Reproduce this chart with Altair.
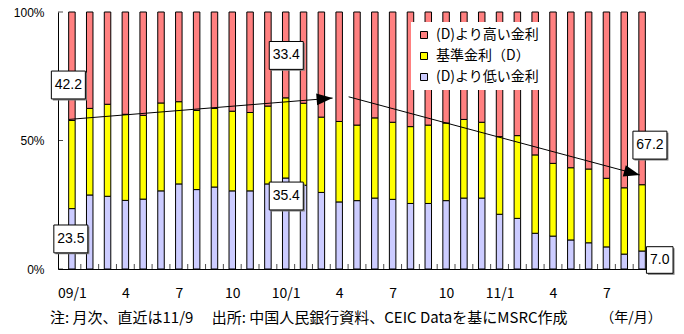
import math

import altair as alt
import pandas as pd

# Monthly share of new loans by interest-rate level relative to the benchmark rate (D)
months = [
    "09/1", "09/2", "09/3", "09/4", "09/5", "09/6", "09/7", "09/8", "09/9", "09/10", "09/11", "09/12",
    "10/1", "10/2", "10/3", "10/4", "10/5", "10/6", "10/7", "10/8", "10/9", "10/10", "10/11", "10/12",
    "11/1", "11/2", "11/3", "11/4", "11/5", "11/6", "11/7", "11/8", "11/9",
]
low = [23.5, 28.8, 28.3, 26.7, 27.2, 30.4, 33.1, 30.9, 31.9, 30.4, 30.4, 33.1,
       35.4, 32.6, 29.8, 26.1, 26.6, 27.6, 27.1, 25.5, 25.5, 26.6, 27.6, 27.6,
       21.3, 19.7, 13.9, 12.8, 11.3, 10.2, 8.6, 5.8, 7.0]
base = [34.3, 33.7, 35.8, 33.5, 32.6, 34.2, 32.0, 30.8, 30.6, 31.0, 30.5, 30.3,
        31.2, 31.9, 29.3, 31.3, 29.4, 31.2, 30.0, 29.9, 30.5, 30.2, 30.6, 29.5,
        30.2, 32.2, 30.5, 28.3, 28.1, 28.7, 26.7, 25.8, 25.8]
high = [42.2, 37.5, 35.9, 39.8, 40.2, 35.4, 34.9, 38.3, 37.5, 38.6, 39.1, 36.6,
        33.4, 35.5, 40.9, 42.6, 44.0, 41.2, 42.9, 44.6, 44.0, 43.2, 41.8, 42.9,
        48.5, 48.1, 55.6, 58.9, 60.6, 61.1, 64.7, 68.4, 67.2]

series_names = ["(D)より高い金利", "基準金利（D）", "(D)より低い金利"]
series_colors = ["#FF8080", "#FFFF00", "#CCCCFF"]

tick_months = ["09/1", "09/4", "09/7", "09/10", "10/1", "10/4", "10/7", "10/10", "11/1", "11/4", "11/7"]
tick_labels = ["09/1", "4", "7", "10", "10/1", "4", "7", "10", "11/1", "4", "7"]

note_text = "注: 月次、直近は11/9　  出所: 中国人民銀行資料、CEIC Dataを基にMSRC作成"
unit_text = "（年/月）"

# Trend arrows: (start month index, start %, end month index, end %)
arrows = [
    (-0.17, 58.2, 14.63, 66.5),
    (15.53, 67.0, 31.87, 36.6),
]

W, H = 598, 257
n = len(months)
JP = "Noto Sans CJK JP"
LATIN = "Liberation Sans"

x_scale = alt.Scale(domain=[-0.5, n - 0.5], nice=False, zero=False)
y_scale = alt.Scale(domain=[0, 100], nice=False, zero=True)

rows = []
for i, m in enumerate(months):
    for order, (name, vals) in enumerate(zip(series_names[::-1], [low, base, high])):
        rows.append({"idx": i, "month": m, "series": name, "value": vals[i], "stack_order": order})
bar_df = pd.DataFrame(rows)

tick_pos = [months.index(m) for m in tick_months]
label_expr = "[" + ",".join(f"'{t}'" for t in tick_labels) + "][indexof(" + \
    "[" + ",".join(str(p) for p in tick_pos) + "], datum.value)]"


def qx(field):
    return alt.X(field, type="quantitative", scale=x_scale, title=None)


def qy(field):
    return alt.Y(field, type="quantitative", scale=y_scale, title=None)


bars = alt.Chart(bar_df).mark_bar(size=6.5, stroke="black", strokeWidth=1).encode(
    x=alt.X("idx:Q", scale=x_scale, title=None, axis=alt.Axis(
        values=tick_pos, labelExpr=label_expr, ticks=False, grid=False,
        domainColor="black", domainWidth=1, labelFont=JP, labelFontSize=14,
        labelColor="black", labelPadding=17, labelBaseline="top")),
    y=alt.Y("value:Q", stack="zero", scale=y_scale, title=None, axis=alt.Axis(
        values=[0, 50, 100], labelExpr="datum.value + '%'", ticks=False, grid=False,
        domainColor="black", domainWidth=1, labelFont=LATIN,
        labelFontSize=12, labelColor="black", labelPadding=14)),
    color=alt.Color("series:N", scale=alt.Scale(domain=series_names, range=series_colors),
                    legend=alt.Legend(
                        title=None, orient="none", legendX=353, legendY=10,
                        fillColor="white", padding=6, symbolType="square", symbolSize=49,
                        symbolStrokeColor="black", symbolStrokeWidth=1, labelFont=JP,
                        labelFontSize=14, labelColor="black", rowPadding=7, labelOffset=5)),
    order=alt.Order("stack_order:Q"),
)

# Inward tick marks on both axes
bound_df = pd.DataFrame({"b": [k + 0.5 for k in range(n)]})
x_ticks = alt.Chart(bound_df).mark_tick(orient="vertical", size=5, thickness=1, color="black").encode(
    x=qx("b"),
    y=alt.value(H - 2.5),
)
y_ticks = alt.Chart(pd.DataFrame({"t": [0, 50, 100]})).mark_tick(
    orient="horizontal", size=5, thickness=1, color="black").encode(
    x=alt.value(2.5),
    y=qy("t"),
)

# Arrow shafts and heads
arrow_rows = []
for k, (x1, y1, x2, y2) in enumerate(arrows):
    arrow_rows.append({"arrow": k, "ax": x1, "ay": y1})
    arrow_rows.append({"arrow": k, "ax": x2, "ay": y2})
shafts = alt.Chart(pd.DataFrame(arrow_rows)).mark_line(color="black", strokeWidth=1).encode(
    x=qx("ax"),
    y=qy("ay"),
    detail="arrow:N",
)

head_path = "M0,0L-1,-0.37L-1,0.37Z"
heads = []
for x1, y1, x2, y2 in arrows:
    dx = (x2 - x1) * W / n
    dy = -(y2 - y1) * H / 100
    ang = math.degrees(math.atan2(dy, dx)) % 360
    heads.append(
        alt.Chart(pd.DataFrame({"hx": [x2], "hy": [y2]})).mark_point(
            shape=head_path, size=1024, filled=True, color="black", opacity=1, angle=ang
        ).encode(x=qx("hx"), y=qy("hy"))
    )

# Value call-outs
callouts = pd.DataFrame({
    "text": [f"{high[0]:.1f}", f"{low[0]:.1f}", f"{high[12]:.1f}", f"{low[12]:.1f}",
             f"{high[32]:.1f}", f"{low[32]:.1f}"],
    "cx": [-0.2, -0.06, 12.03, 12.03, 32.44, 32.99],
    "cy": [71.6, 11.7, 83.1, 28.4, 48.2, 3.5],
})
callouts["wide"] = callouts["text"].str.len() >= 4

box_layers = []
for wide, shape, size in [(True, "M-1,-0.82H1V0.82H-1Z", 1156), (False, "M-1,-1H1V1H-1Z", 708)]:
    sub = callouts[callouts["wide"] == wide]
    box_layers.append(alt.Chart(sub).mark_point(
        shape=shape, size=size, filled=True, color="#7f7f7f", opacity=1, xOffset=1.5, yOffset=1.5
    ).encode(x=qx("cx"), y=qy("cy")))
    box_layers.append(alt.Chart(sub).mark_point(
        shape=shape, size=size, filled=True, fill="white", stroke="black", strokeWidth=1, opacity=1
    ).encode(x=qx("cx"), y=qy("cy")))

callout_text = alt.Chart(callouts).mark_text(
    font=LATIN, fontSize=14, color="black", align="center", baseline="middle"
).encode(x=qx("cx"), y=qy("cy"), text="text:N")

note = alt.Chart(pd.DataFrame({"t": [note_text]})).mark_text(
    align="left", baseline="middle", font=JP, fontSize=15, color="black"
).encode(x=alt.value(-8), y=alt.value(306), text="t:N")
unit = alt.Chart(pd.DataFrame({"t": [unit_text]})).mark_text(
    align="center", baseline="middle", font=JP, fontSize=14, color="black"
).encode(x=alt.value(573), y=alt.value(306), text="t:N")

chart = alt.layer(
    bars, x_ticks, y_ticks, shafts, *heads, *box_layers, callout_text, note, unit
).properties(
    width=W,
    height=H,
    autosize=alt.AutoSizeParams(type="none"),
    padding={"left": 58, "top": 12, "right": 28, "bottom": 65},
    background="white",
).configure_view(stroke=None)

chart.save("out.html", embed_options={"renderer": "svg", "actions": False})
